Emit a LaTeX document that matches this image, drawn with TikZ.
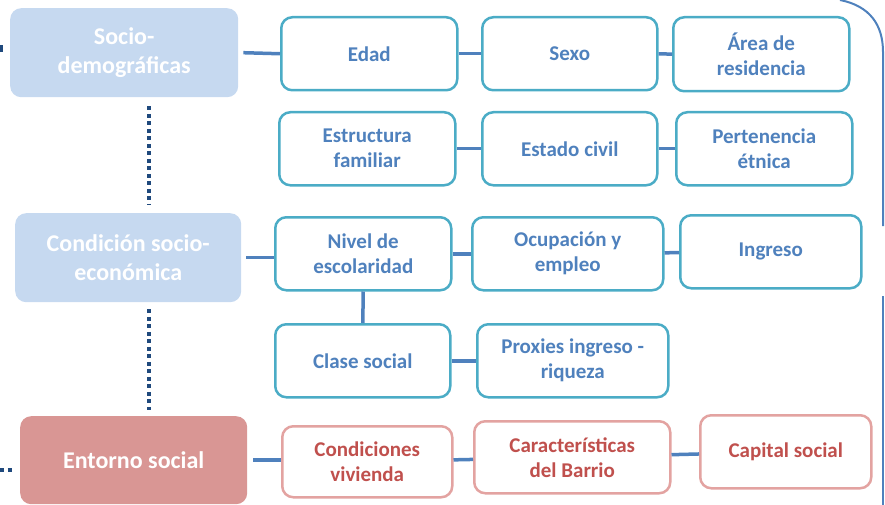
\documentclass[tikz,border=0pt]{standalone}
\usepackage{fontspec}
\setmainfont{Carlito}
\usetikzlibrary{positioning}
\definecolor{headblue}{HTML}{C6D9F0}
\definecolor{headred}{HTML}{D99694}
\definecolor{tealline}{HTML}{4BACC6}
\definecolor{itemblue}{HTML}{4F81BD}
\definecolor{redline}{HTML}{E3A3A1}
\definecolor{itemred}{HTML}{C0504D}
\definecolor{dotblue}{HTML}{1F497D}
\tikzset{cat/.style={fill=headblue,rounded corners=11pt,anchor=north west,align=center,text=white,inner sep=2pt,font=\bfseries\fontsize{24}{29}\selectfont},item/.style={draw=tealline,fill=white,line width=2.5pt,rounded corners=11pt,anchor=north west,align=center,text=itemblue,inner sep=2pt,font=\bfseries\fontsize{21}{25}\selectfont},itemr/.style={item,draw=redline,text=itemred},link/.style={draw=itemblue,line width=3.5pt},dots/.style={draw=dotblue,line width=4pt,dash pattern=on 4pt off 3.5pt},bracket/.style={draw=itemblue,line width=2pt}}

\begin{document}
\begin{tikzpicture}[x=1pt,y=-1pt]
\useasboundingbox (0,0) rectangle (885,505);

\node[cat,minimum width=228,minimum height=89] (socio) at (10,8) {Socio-\\demográficas};
\node[cat,minimum width=226,minimum height=89] (cond) at (15,213) {Condición socio-\\económica};
\node[cat,fill=headred,minimum width=227,minimum height=88] (ent) at (20,416) {Entorno social};

\node[item,minimum width=176,minimum height=73] (edad) at (280,16) {Edad};
\node[item,minimum width=175,minimum height=73] (sexo) at (481,16) {Sexo};
\node[item,minimum width=176,minimum height=74] (area) at (672,16) {Área de\\residencia};
\node[item,minimum width=176,minimum height=73] (estr) at (278,111) {Estructura\\familiar};
\node[item,minimum width=175,minimum height=73] (estc) at (481,111) {Estado civil};
\node[item,minimum width=176,minimum height=73] (pert) at (675,111) {Pertenencia\\étnica};
\node[item,minimum width=176,minimum height=73] (nivel) at (274,216) {Nivel de\\escolaridad};
\node[item,minimum width=191,minimum height=73] (ocup) at (471,216) {Ocupación y\\empleo};
\node[item,minimum width=181,minimum height=73] (ingr) at (679,214) {Ingreso};
\node[item,minimum width=175,minimum height=73] (clase) at (274,323) {Clase social};
\node[item,minimum width=191,minimum height=73] (prox) at (476,323) {Proxies ingreso -\\riqueza};
\node[itemr,minimum width=170,minimum height=71] (viv) at (281,425) {Condiciones\\vivienda};
\node[itemr,minimum width=196,minimum height=72] (barr) at (473,420) {Características\\del Barrio};
\node[itemr,minimum width=171,minimum height=73] (capi) at (699,414) {Capital social};

% conexiones
\draw[link] ([xshift=5pt]socio.east) -- (edad.west);
\draw[link] (edad) -- (sexo); \draw[link] (sexo) -- (area);
\draw[link] (estr) -- (estc); \draw[link] (estc) -- (pert);
\draw[link] ([xshift=5pt]cond.east) -- (cond.east -| nivel.west);
\draw[link] (nivel) -- (ocup); \draw[link] (ocup) -- (ingr);
\draw[link] (nivel) -- (clase); \draw[link] (clase) -- (prox);
\draw[link] ([xshift=6pt]ent.east) -- (ent.east -| viv.west);
\draw[link] (viv) -- (barr); \draw[link] (barr) -- (capi);

\draw[dots] ([xshift=25pt,yshift=-9pt]socio.south) -- ([xshift=21pt,yshift=8pt]cond.north);
\draw[dots] ([xshift=21pt,yshift=-7pt]cond.south) -- ([xshift=15.5pt,yshift=6pt]ent.north);

% bordes recortados
\fill[dotblue] (0,45) rectangle (3,52);
\draw[dots] (0,470) -- (13,470);
\draw[bracket] (840,0) .. controls (870,6) and (883,25) .. (883,52) -- (883,226);
\draw[bracket] (883,296) -- (883,506);
\end{tikzpicture}
\end{document}
